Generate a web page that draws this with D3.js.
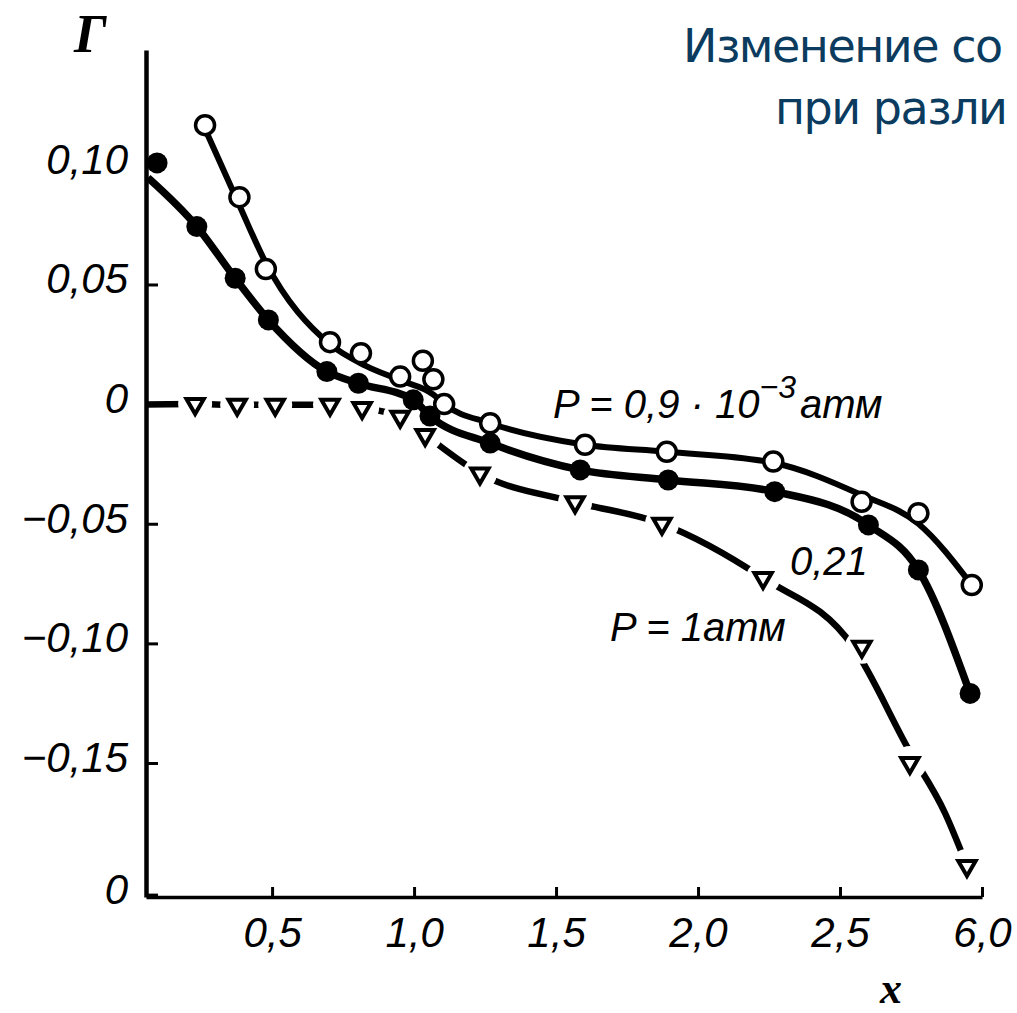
<!DOCTYPE html>
<html>
<head>
<meta charset="utf-8">
<script src="https://cdn.jsdelivr.net/npm/d3@7"></script>
<style>
  html, body { margin: 0; padding: 0; background: #fff; }
  svg { display: block; }
  .tick text { font-family: "Liberation Sans", Arial, sans-serif; font-style: italic; }
</style>
</head>
<body>
<svg width="1017" height="1013"></svg>
<script>
// tick values and their printed labels (last x tick is the 6.0 break)
const xTicks = [0.5, 1.0, 1.5, 2.0, 2.5, 3.0];
const xTickLabels = ['0,5', '1,0', '1,5', '2,0', '2,5', '6,0'];
const yTicks = [0.10, 0.05, 0, -0.05, -0.10, -0.15, -0.205];
const yTickLabels = ['0,10', '0,05', '0', '\u22120,05', '\u22120,10', '\u22120,15', '0'];

// P = 0.9e-3 atm : open circles
const openPts = [
  [0.264, 0.1166], [0.385, 0.0865], [0.478, 0.0565], [0.704, 0.0259], [0.813, 0.0213],
  [0.951, 0.0115], [1.031, 0.0181], [1.068, 0.0104], [1.106, 0.0], [1.268, -0.008],
  [1.602, -0.017], [1.890, -0.0199], [2.265, -0.024], [2.576, -0.0408], [2.776, -0.0456],
  [2.964, -0.0756]
];
const openCurve = [
  [0.264, 0.1150], [0.385, 0.0830], [0.478, 0.0590], [0.704, 0.0250], [0.830, 0.0160],
  [0.951, 0.0100], [1.068, 0.0040], [1.106, 0.0], [1.268, -0.008], [1.602, -0.017],
  [1.890, -0.0199], [2.265, -0.0245], [2.576, -0.038], [2.776, -0.050], [2.964, -0.0756]
];

// P = 0.21 : filled circles
const fullPts = [
  [0.095, 0.1008], [0.235, 0.0742], [0.370, 0.0526], [0.487, 0.0352], [0.693, 0.0136],
  [0.804, 0.0087], [0.997, 0.0018], [1.056, -0.005], [1.268, -0.0163], [1.585, -0.0275],
  [1.895, -0.0317], [2.270, -0.0366], [2.600, -0.0505], [2.776, -0.0693], [2.958, -0.1209]
];
const fullCurve = [
  [0.063, 0.0946], [0.235, 0.0742], [0.370, 0.0526], [0.487, 0.0352], [0.693, 0.0136],
  [0.804, 0.0087], [0.997, 0.0018], [1.056, -0.005], [1.268, -0.0163], [1.585, -0.0275],
  [1.895, -0.0317], [2.270, -0.0366], [2.600, -0.0505], [2.776, -0.0693], [2.958, -0.1209]
];

// P = 1 atm : triangles, dashed
const triPts = [
  [0.229, 0.0], [0.377, -0.0003], [0.511, -0.0003], [0.704, -0.0003], [0.817, -0.0016],
  [0.951, -0.0053], [1.039, -0.0129], [1.232, -0.029], [1.567, -0.041], [1.873, -0.050],
  [2.229, -0.0727], [2.577, -0.1014], [2.746, -0.150], [2.947, -0.193]
];
const triCurve = [
  [0.056, -0.0002], [0.229, 0.0], [0.377, -0.0003], [0.511, -0.0003], [0.704, -0.0003],
  [0.817, -0.0016], [0.951, -0.0053], [1.039, -0.0129], [1.232, -0.029], [1.567, -0.041],
  [1.873, -0.050], [2.229, -0.0727], [2.546, -0.1014], [2.740, -0.144], [2.870, -0.171],
  [2.947, -0.193]
];

const svg = d3.select('svg');

const x = d3.scaleLinear().domain([0.056, 3.0]).range([146, 982]);
const y = d3.scaleLinear().domain([-0.206, 0.148]).range([897, 50]);

// title fragment (right part of the slide is off the picture)
const title = svg.append('g')
  .attr('fill', '#0b3b5e')
  .style('font-family', '"DejaVu Sans", Verdana, sans-serif')
  .style('font-size', '46px')
  .style('letter-spacing', '-1.5px');
title.append('text').attr('x', 683).attr('y', 62).text('Изменение со');
title.append('text').attr('x', 775).attr('y', 124).text('при разли');

// axes
const yAxis = d3.axisLeft(y)
  .tickValues(yTicks)
  .tickFormat((d, i) => yTickLabels[i])
  .tickSizeInner(-12)
  .tickSizeOuter(0)
  .tickPadding(18);

const xAxis = d3.axisBottom(x)
  .tickValues(xTicks)
  .tickFormat((d, i) => xTickLabels[i])
  .tickSizeInner(-10)
  .tickSizeOuter(0)
  .tickPadding(20);

const gy = svg.append('g').attr('transform', 'translate(146,0)').call(yAxis);
gy.select('.domain').attr('stroke', '#000').attr('stroke-width', 4.5);
gy.selectAll('.tick line').attr('stroke', '#000').attr('stroke-width', 3);
gy.selectAll('.tick text').attr('font-size', 42).attr('fill', '#000').attr('dy', '0.2em');

const gx = svg.append('g').attr('transform', 'translate(0,897)').call(xAxis);
gx.select('.domain').attr('stroke', '#000').attr('stroke-width', 3.5);
gx.selectAll('.tick line').attr('stroke', '#000').attr('stroke-width', 3);
gx.selectAll('.tick text').attr('font-size', 42).attr('fill', '#000');

// axis names
svg.append('text')
  .attr('x', 74).attr('y', 52)
  .style('font-family', '"Liberation Serif", serif')
  .style('font-style', 'italic').style('font-weight', 'bold')
  .style('font-size', '54px')
  .text('Γ');
svg.append('text')
  .attr('x', 880).attr('y', 1003)
  .style('font-family', '"Liberation Serif", serif')
  .style('font-style', 'italic').style('font-weight', 'bold')
  .style('font-size', '44px')
  .text('x');

const line = d3.line()
  .x(d => x(d[0]))
  .y(d => y(d[1]))
  .curve(d3.curveMonotoneX);

// gaps of the dashed line around its markers
const mask = svg.append('defs').append('mask').attr('id', 'triGap')
  .attr('maskUnits', 'userSpaceOnUse')
  .attr('x', 0).attr('y', 0).attr('width', 1017).attr('height', 1013);
mask.append('rect').attr('width', 1017).attr('height', 1013).attr('fill', '#fff');
mask.selectAll('circle').data(triPts).join('circle')
  .attr('cx', d => x(d[0])).attr('cy', d => y(d[1])).attr('r', 17).attr('fill', '#000');

svg.append('path')
  .attr('d', line(triCurve))
  .attr('fill', 'none').attr('stroke', '#000').attr('stroke-width', 6.5)
  .attr('mask', 'url(#triGap)');

svg.append('path')
  .attr('d', line(fullCurve))
  .attr('fill', 'none').attr('stroke', '#000').attr('stroke-width', 7.5);

svg.append('path')
  .attr('d', line(openCurve))
  .attr('fill', 'none').attr('stroke', '#000').attr('stroke-width', 6);

// markers
svg.selectAll('.tri').data(triPts).join('path')
  .attr('class', 'tri')
  .attr('d', d3.symbol(d3.symbolTriangle, 130))
  .attr('transform', d => `translate(${x(d[0])},${y(d[1])}) rotate(180)`)
  .attr('fill', '#fff').attr('stroke', '#000').attr('stroke-width', 4);

svg.selectAll('.full').data(fullPts).join('circle')
  .attr('class', 'full')
  .attr('cx', d => x(d[0])).attr('cy', d => y(d[1]))
  .attr('r', 10.5).attr('fill', '#000');

svg.selectAll('.open').data(openPts).join('circle')
  .attr('class', 'open')
  .attr('cx', d => x(d[0])).attr('cy', d => y(d[1]))
  .attr('r', 9.5).attr('fill', '#fff').attr('stroke', '#000').attr('stroke-width', 3.5);

// curve labels
const ann = svg.append('g')
  .style('font-family', '"Liberation Sans", Arial, sans-serif')
  .style('font-style', 'italic')
  .attr('fill', '#000');
const p1 = ann.append('text').attr('x', 553).attr('y', 418).style('font-size', '40px');
p1.append('tspan').text('P = 0,9 · 10');
p1.append('tspan').attr('dy', -20).style('font-size', '32px').text('\u22123');
p1.append('tspan').attr('dy', 20).attr('dx', 4).text('атм');
ann.append('text').attr('x', 790).attr('y', 575).style('font-size', '40px').text('0,21');
ann.append('text').attr('x', 610).attr('y', 641).style('font-size', '40px').text('P = 1атм');
</script>
</body>
</html>
